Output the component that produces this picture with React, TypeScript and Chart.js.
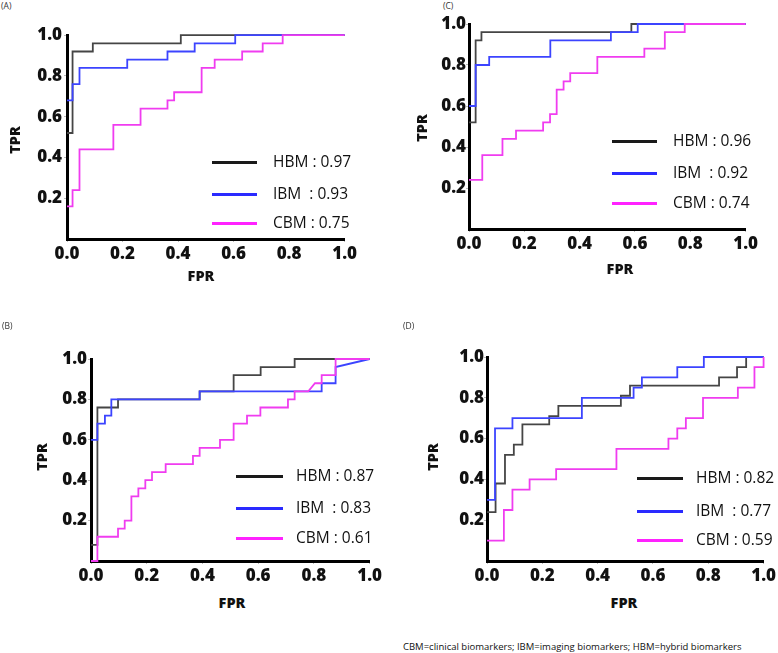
import React, { useEffect, useRef } from "react";
import { Chart, registerables } from "chart.js";

Chart.register(...registerables);

// ---------- data ----------
const seriesNames = ["HBM", "IBM", "CBM"];
const xTicks = [0, 0.2, 0.4, 0.6, 0.8, 1.0];
const yTicks = [0.2, 0.4, 0.6, 0.8, 1.0];

// Panel A
const aAuc = [0.97, 0.93, 0.75];
const aHbmFpr = [0, 0.02, 0.02, 0.093, 0.093, 0.41, 0.41, 1.0];
const aHbmTpr = [0.52, 0.52, 0.92, 0.92, 0.96, 0.96, 1.0, 1.0];
const aIbmFpr = [0, 0.02, 0.02, 0.045, 0.045, 0.217, 0.217, 0.362, 0.362, 0.46, 0.46, 0.606, 0.606, 1.0];
const aIbmTpr = [0.68, 0.68, 0.76, 0.76, 0.84, 0.84, 0.88, 0.88, 0.92, 0.92, 0.96, 0.96, 1.0, 1.0];
const aCbmFpr = [0, 0.02, 0.02, 0.045, 0.045, 0.167, 0.167, 0.265, 0.265, 0.362, 0.362, 0.386, 0.386, 0.485, 0.485, 0.532, 0.532, 0.631, 0.631, 0.705, 0.705, 0.777, 0.777, 1.0];
const aCbmTpr = [0.16, 0.16, 0.24, 0.24, 0.44, 0.44, 0.56, 0.56, 0.64, 0.64, 0.68, 0.68, 0.72, 0.72, 0.84, 0.84, 0.88, 0.88, 0.92, 0.92, 0.96, 0.96, 1.0, 1.0];

// Panel C
const cAuc = [0.96, 0.92, 0.74];
const cHbmFpr = [0, 0.024, 0.024, 0.045, 0.045, 0.587, 0.587, 1.0];
const cHbmTpr = [0.52, 0.52, 0.92, 0.92, 0.96, 0.96, 1.0, 1.0];
const cIbmFpr = [0, 0.024, 0.024, 0.073, 0.073, 0.294, 0.294, 0.513, 0.513, 0.61, 0.61, 1.0];
const cIbmTpr = [0.6, 0.6, 0.8, 0.8, 0.84, 0.84, 0.92, 0.92, 0.96, 0.96, 1.0, 1.0];
const cCbmFpr = [0, 0.048, 0.048, 0.121, 0.121, 0.17, 0.17, 0.268, 0.268, 0.293, 0.293, 0.317, 0.317, 0.342, 0.342, 0.366, 0.366, 0.464, 0.464, 0.634, 0.634, 0.708, 0.708, 0.78, 0.78, 1.0];
const cCbmTpr = [0.24, 0.24, 0.36, 0.36, 0.44, 0.44, 0.48, 0.48, 0.52, 0.52, 0.56, 0.56, 0.68, 0.68, 0.72, 0.72, 0.76, 0.76, 0.84, 0.84, 0.88, 0.88, 0.96, 0.96, 1.0, 1.0];

// Panel B
const bAuc = [0.87, 0.83, 0.61];
const bHbmFpr = [0, 0.023, 0.023, 0.097, 0.097, 0.39, 0.39, 0.512, 0.512, 0.609, 0.609, 0.731, 0.731, 1.0];
const bHbmTpr = [0.08, 0.08, 0.76, 0.76, 0.8, 0.8, 0.84, 0.84, 0.92, 0.92, 0.96, 0.96, 1.0, 1.0];
const bIbmFpr = [0, 0.023, 0.023, 0.05, 0.05, 0.073, 0.073, 0.39, 0.39, 0.828, 0.828, 0.878, 0.878, 1.0];
const bIbmTpr = [0.6, 0.6, 0.68, 0.68, 0.72, 0.72, 0.8, 0.8, 0.84, 0.84, 0.88, 0.88, 0.96, 1.0];
const bCbmFpr = [0, 0.023, 0.023, 0.097, 0.097, 0.121, 0.121, 0.145, 0.145, 0.17, 0.17, 0.195, 0.195, 0.219, 0.219, 0.268, 0.268, 0.366, 0.366, 0.39, 0.39, 0.463, 0.463, 0.512, 0.512, 0.56, 0.56, 0.608, 0.608, 0.707, 0.707, 0.731, 0.731, 0.78, 0.804, 0.828, 0.828, 0.878, 0.878, 1.0];
const bCbmTpr = [0, 0, 0.12, 0.12, 0.16, 0.16, 0.2, 0.2, 0.32, 0.32, 0.36, 0.36, 0.4, 0.4, 0.44, 0.44, 0.48, 0.48, 0.52, 0.52, 0.56, 0.56, 0.6, 0.6, 0.68, 0.68, 0.72, 0.72, 0.76, 0.76, 0.8, 0.8, 0.84, 0.84, 0.88, 0.88, 0.92, 0.92, 1.0, 1.0];

// Panel D
const dAuc = [0.82, 0.77, 0.59];
const dHbmFpr = [0, 0.031, 0.031, 0.065, 0.065, 0.097, 0.097, 0.128, 0.128, 0.225, 0.225, 0.258, 0.258, 0.484, 0.484, 0.517, 0.517, 0.839, 0.839, 0.904, 0.904, 0.937, 0.937, 1.0];
const dHbmTpr = [0.24, 0.24, 0.38, 0.38, 0.52, 0.52, 0.57, 0.57, 0.67, 0.67, 0.71, 0.71, 0.76, 0.76, 0.81, 0.81, 0.86, 0.86, 0.9, 0.9, 0.95, 0.95, 1.0, 1.0];
const dIbmFpr = [0, 0.029, 0.029, 0.092, 0.092, 0.343, 0.343, 0.53, 0.53, 0.56, 0.56, 0.688, 0.688, 0.784, 0.784, 1.0];
const dIbmTpr = [0.3, 0.3, 0.65, 0.65, 0.7, 0.7, 0.8, 0.8, 0.85, 0.85, 0.9, 0.9, 0.95, 0.95, 1.0, 1.0];
const dCbmFpr = [0, 0.061, 0.061, 0.092, 0.092, 0.154, 0.154, 0.25, 0.25, 0.468, 0.468, 0.656, 0.656, 0.688, 0.688, 0.719, 0.719, 0.781, 0.781, 0.907, 0.907, 0.967, 0.967, 1.0, 1.0];
const dCbmTpr = [0.1, 0.1, 0.25, 0.25, 0.35, 0.35, 0.4, 0.4, 0.45, 0.45, 0.55, 0.55, 0.6, 0.6, 0.65, 0.65, 0.7, 0.7, 0.8, 0.8, 0.85, 0.85, 0.95, 0.95, 1.0];

const footnote = "CBM=clinical biomarkers; IBM=imaging biomarkers; HBM=hybrid biomarkers";

// ---------- styles ----------
const FONT = "'Open Sans', 'DejaVu Sans', sans-serif";
const curveColors = ["#454545", "#3c44ff", "#f03cf0"];
const legendColors = ["#1a1a1a", "#2a2aff", "#ff22ff"];
const legendPrefix = ["HBM ", "IBM  ", "CBM "];

const PAD_L = 60;
const PAD_T = 12;
const PAD_R = 12;
const PAD_B = 30;

type Layout = {
  tag: string;
  plot: { l: number; r: number; t: number; b: number };
  tagPos: { x: number; y: number };
  tpr: { x: number; y: number };
  fpr: { x: number; y: number };
  leg: { x1: number; x2: number; ys: number[]; tx: number };
  yPad: number;
};

const panels: { layout: Layout; auc: number[]; fpr: number[][]; tpr: number[][] }[] = [
  {
    layout: {
      tag: "(A)", plot: { l: 67, r: 347, t: 35, b: 239 }, tagPos: { x: 1, y: 6 },
      tpr: { x: 15, y: 140 }, fpr: { x: 201, y: 276 },
      leg: { x1: 212, x2: 257, ys: [162, 194, 223], tx: 273 }, yPad: 2,
    },
    auc: aAuc, fpr: [aHbmFpr, aIbmFpr, aCbmFpr], tpr: [aHbmTpr, aIbmTpr, aCbmTpr],
  },
  {
    layout: {
      tag: "(C)", plot: { l: 469, r: 748, t: 24, b: 229 }, tagPos: { x: 443, y: 6 },
      tpr: { x: 422, y: 128 }, fpr: { x: 620, y: 269 },
      leg: { x1: 612, x2: 657, ys: [141, 173, 203], tx: 673 }, yPad: 0,
    },
    auc: cAuc, fpr: [cHbmFpr, cIbmFpr, cCbmFpr], tpr: [cHbmTpr, cIbmTpr, cCbmTpr],
  },
  {
    layout: {
      tag: "(B)", plot: { l: 91, r: 372, t: 359, b: 561 }, tagPos: { x: 2, y: 326 },
      tpr: { x: 42, y: 457 }, fpr: { x: 232, y: 603 },
      leg: { x1: 236, x2: 283, ys: [476, 508, 538], tx: 296 }, yPad: 1,
    },
    auc: bAuc, fpr: [bHbmFpr, bIbmFpr, bCbmFpr], tpr: [bHbmTpr, bIbmTpr, bCbmTpr],
  },
  {
    layout: {
      tag: "(D)", plot: { l: 487, r: 766, t: 357, b: 561 }, tagPos: { x: 403, y: 326 },
      tpr: { x: 433, y: 457 }, fpr: { x: 624, y: 603 },
      leg: { x1: 637, x2: 683, ys: [478, 511, 540], tx: 696 }, yPad: 0,
    },
    auc: dAuc, fpr: [dHbmFpr, dIbmFpr, dCbmFpr], tpr: [dHbmTpr, dIbmTpr, dCbmTpr],
  },
];

function RocPanel({ p }: { p: (typeof panels)[number] }) {
  const ref = useRef<HTMLCanvasElement>(null);
  const L = p.layout;
  const W = L.plot.r - L.plot.l + PAD_L + PAD_R;
  const H = L.plot.b - L.plot.t + PAD_T + PAD_B;

  useEffect(() => {
    const tickFont = { family: FONT, size: 17, weight: 800 };
    const chart = new Chart(ref.current as HTMLCanvasElement, {
      type: "line",
      data: {
        datasets: seriesNames.map((name, i) => ({
          label: name,
          data: p.fpr[i].map((x, k) => ({ x, y: p.tpr[i][k] })),
          borderColor: curveColors[i],
          backgroundColor: curveColors[i],
          borderWidth: 1.8,
          pointRadius: 0,
          fill: false,
          tension: 0,
          order: 3 - i,
          clip: 4,
        })),
      },
      options: {
        responsive: false,
        animation: false,
        devicePixelRatio: 1,
        events: [],
        layout: { padding: { left: 0, top: PAD_T, right: PAD_R, bottom: 0 } },
        plugins: { legend: { display: false }, tooltip: { enabled: false }, title: { display: false } },
        scales: {
          x: {
            type: "linear",
            min: 0,
            max: 1,
            afterFit: (s: any) => { s.height = PAD_B; },
            afterBuildTicks: (s: any) => { s.ticks = xTicks.map((v) => ({ value: v })); },
            ticks: {
              callback: (v: any) => Number(v).toFixed(1),
              font: tickFont, color: "#111", padding: 2, maxRotation: 0, autoSkip: false,
            },
            grid: { display: true, drawOnChartArea: false, drawTicks: true, tickLength: 3, color: "#bbbbbb" },
            border: { display: true, color: "#000", width: 3 },
          },
          y: {
            type: "linear",
            min: 0,
            max: 1,
            afterFit: (s: any) => { s.width = PAD_L; },
            afterBuildTicks: (s: any) => { s.ticks = yTicks.map((v) => ({ value: v })); },
            ticks: {
              callback: (v: any) => Number(v).toFixed(1),
              font: tickFont, color: "#111", padding: L.yPad, autoSkip: false,
            },
            grid: { display: true, drawOnChartArea: false, drawTicks: true, tickLength: 3, color: "#bbbbbb" },
            border: { display: true, color: "#000", width: 3 },
          },
        },
      } as any,
    });
    return () => chart.destroy();
  }, []);

  const txt: React.CSSProperties = { position: "absolute", fontFamily: FONT, color: "#111", whiteSpace: "pre", lineHeight: 1 };

  return (
    <>
      <canvas
        ref={ref}
        width={W}
        height={H}
        style={{ position: "absolute", left: L.plot.l - PAD_L, top: L.plot.t - PAD_T, width: W, height: H }}
      />
      <div style={{ ...txt, left: L.tagPos.x, top: L.tagPos.y, transform: "translateY(-50%)", fontSize: 8.5, color: "#333" }}>
        {L.tag}
      </div>
      <div style={{ ...txt, left: L.tpr.x, top: L.tpr.y, transform: "translate(-50%,-50%) rotate(-90deg)", fontSize: 14.5, fontWeight: 800 }}>
        TPR
      </div>
      <div style={{ ...txt, left: L.fpr.x, top: L.fpr.y, transform: "translate(-50%,-50%)", fontSize: 14.5, fontWeight: 800 }}>
        FPR
      </div>
      {seriesNames.map((n, i) => (
        <React.Fragment key={n}>
          <div style={{ position: "absolute", left: L.leg.x1, top: L.leg.ys[i] - 1, width: L.leg.x2 - L.leg.x1, height: 2.5, background: legendColors[i] }} />
          <div style={{ ...txt, left: L.leg.tx, top: L.leg.ys[i], transform: "translateY(-50%)", fontSize: 15.5 }}>
            {legendPrefix[i] + ": " + p.auc[i].toFixed(2)}
          </div>
        </React.Fragment>
      ))}
    </>
  );
}

export default function App() {
  return (
    <div style={{ position: "absolute", left: 0, top: 0, width: 778, height: 653, overflow: "hidden", background: "#fff" }}>
      {panels.map((p) => (
        <RocPanel key={p.layout.tag} p={p} />
      ))}
      <div style={{ position: "absolute", left: 403, top: 647, transform: "translateY(-50%)", fontFamily: FONT, fontSize: 9.5, color: "#111", whiteSpace: "pre", lineHeight: 1 }}>
        {footnote}
      </div>
    </div>
  );
}
